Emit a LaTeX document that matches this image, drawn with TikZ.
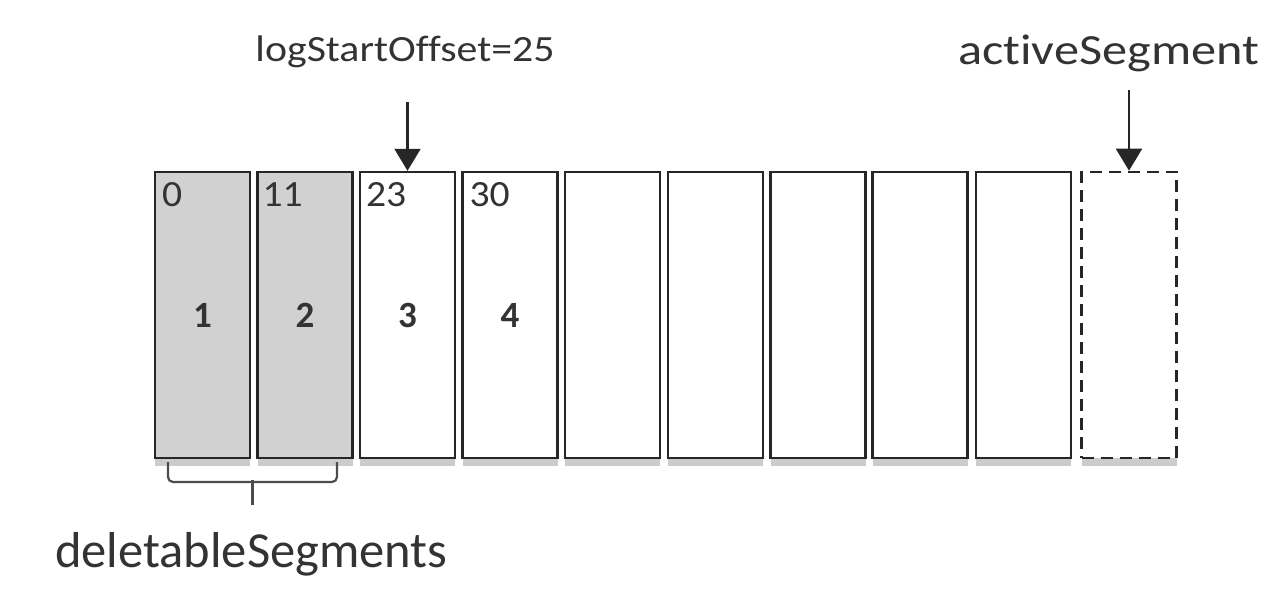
\documentclass[tikz,border=0pt]{standalone}
\usepackage{fontspec}
\setmainfont{Carlito}[Ligatures=NoCommon]
\usetikzlibrary{arrows.meta,shadows}
\begin{document}
\begin{tikzpicture}[x=1pt,y=-1pt,
  seg/.style={draw=black!85, line width=2.4pt, minimum width=95pt, minimum height=286pt,
    inner sep=0pt, fill=white,
    drop shadow={shadow xshift=0pt, shadow yshift=-8pt, opacity=0.2, fill=black}},
  delseg/.style={seg, fill=black!18},
  actseg/.style={seg, line width=2.6pt, dash pattern=on 12pt off 7pt},
  offlbl/.style={font=\fontsize{37}{40}\selectfont, xscale=1.07, text=black!80, inner sep=0pt, anchor=base west},
  numlbl/.style={font=\fontsize{37}{40}\selectfont\bfseries, text=black!80, inner sep=0pt},
  lsolbl/.style={font=\fontsize{37}{42}\selectfont, xscale=1.13, text=black!80, inner sep=0pt},
  actlbl/.style={font=\fontsize{43}{48}\selectfont, xscale=1.17, text=black!80, inner sep=0pt},
  dellbl/.style={font=\fontsize{50.5}{56}\selectfont, text=black!80, inner sep=0pt},
  pointer/.style={draw=black!85, line width=2.2pt, -{Triangle[width=26pt,length=22pt]}},
  bracket/.style={draw=black!70, line width=2.2pt, rounded corners=5pt}
]
\useasboundingbox (0,0) rectangle (1264,602);

% segments
\node[delseg] (s1)  at (202.5,315) {};
\node[delseg] (s2)  at (305,315) {};
\node[seg]    (s3)  at (407.5,315) {};
\node[seg]    (s4)  at (510,315) {};
\node[seg]    (s5)  at (612.5,315) {};
\node[seg]    (s6)  at (715.5,315) {};
\node[seg]    (s7)  at (818,315) {};
\node[seg]    (s8)  at (920,315) {};
\node[seg]    (s9)  at (1023.5,315) {};
\node[actseg] (s10) at (1129,315) {};

% offsets
\node[offlbl] (o1) at ([xshift=8pt,yshift=-36pt]s1.north west) {0};
\node[offlbl] (o2) at ([xshift=6pt,yshift=-36pt]s2.north west) {11};
\node[offlbl] (o3) at ([xshift=7pt,yshift=-36pt]s3.north west) {23};
\node[offlbl] (o4) at ([xshift=8pt,yshift=-36pt]s4.north west) {30};

% segment numbers
\node[numlbl] (n1) at (s1.center) {1};
\node[numlbl] (n2) at (s2.center) {2};
\node[numlbl] (n3) at (s3.center) {3};
\node[numlbl] (n4) at (s4.center) {4};

% top labels and pointers
\node[lsolbl, anchor=base] (lso) at (405,62) {logStartOffset=25};
\coordinate (lsoA) at (407.5,102);
\draw[pointer] (lsoA) -- (s3.north);

\node[actlbl, anchor=base west] (act) at (958,65) {activeSegment};
\coordinate (actA) at (1129,90);
\draw[pointer] (actA) -- (s10.north);

% deletable bracket
\coordinate (bl) at (168,462);
\coordinate (br) at (337,462);
\coordinate (bm) at (252.5,505);
\draw[bracket] (bl) -- (168,482) -- (337,482) -- (br);
\draw[bracket] (252.5,480) -- (bm);
\node[dellbl, anchor=base west] (del) at (55,567) {deletableSegments};
\end{tikzpicture}
\end{document}
